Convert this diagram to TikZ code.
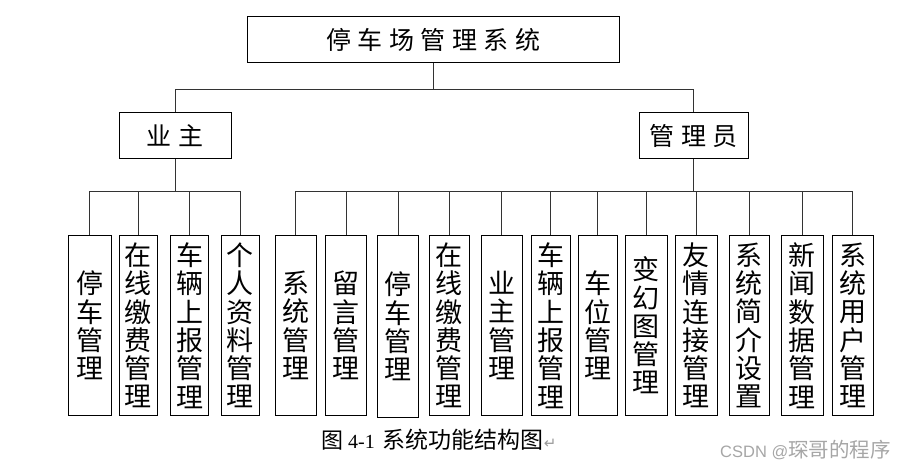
\documentclass[tikz,border=0pt]{standalone}
\usepackage{fontspec}
\usepackage{tikz}
\usetikzlibrary{positioning, calc}
\newfontfamily\cjk{Noto Sans CJK SC}
\newfontfamily\cjkwide[LetterSpace=26]{Noto Sans CJK SC}
\newfontfamily\timesfont{Liberation Serif}
\newfontfamily\arialfont{Liberation Sans}
\newfontfamily\symfont{DejaVu Sans}
\tikzstyle{headbox} = [rectangle, draw=black, line width=1pt, inner sep=0pt,
                       minimum height=46pt, text centered,
                       font=\cjkwide\fontsize{25}{28}\selectfont]
\tikzstyle{link}    = [draw=black!80, line width=1pt]

\begin{document}
\begin{tikzpicture}[x=1pt, y=-1pt,
    leaf/.style={rectangle, draw=black, line width=1pt, inner sep=0pt,
                 minimum width=41pt, minimum height=180pt, anchor=north,
                 align=center, font=\cjk\fontsize{27}{28.3}\selectfont},
    caption/.style={anchor=west, inner sep=0pt, font=\fontsize{22}{24}\selectfont},
    watermark/.style={anchor=west, inner sep=0pt, text=black!35,
                 font=\fontsize{20}{22}\selectfont}]
  \useasboundingbox (0,0) rectangle (904,468);

  % top levels
  \node[headbox, minimum width=372pt] (sys)   at (433, 40)   {停车场管理系统};
  \node[headbox, minimum width=112pt] (owner) at (175,135.5) {业主};
  \node[headbox, minimum width=109pt] (admin) at (693.5,135.5) {管理员};

  % owner functions
  \node[leaf, minimum width=43pt] (o1) at ( 89.5,235) {停\\车\\管\\理};
  \node[leaf, minimum width=38pt] (o2) at (138,235)   {在\\线\\缴\\费\\管\\理};
  \node[leaf, minimum width=38pt] (o3) at (189.5,235) {车\\辆\\上\\报\\管\\理};
  \node[leaf, minimum width=38pt] (o4) at (240,235)   {个\\人\\资\\料\\管\\理};

  % admin functions
  \node[leaf] (a1)  at (295.5,235) {系\\统\\管\\理};
  \node[leaf] (a2)  at (346,235)   {留\\言\\管\\理};
  \node[leaf, minimum height=182pt] (a3) at (398,235) {停\\车\\管\\理};
  \node[leaf, minimum width=40pt] (a4)  at (449,235)   {在\\线\\缴\\费\\管\\理};
  \node[leaf] (a5)  at (501.5,235) {业\\主\\管\\理};
  \node[leaf, minimum width=39pt] (a6)  at (550.5,235) {车\\辆\\上\\报\\管\\理};
  \node[leaf, minimum width=39pt] (a7)  at (597.5,235) {车\\位\\管\\理};
  \node[leaf, minimum width=42pt] (a8)  at (646,235)   {变\\幻\\图\\管\\理};
  \node[leaf, minimum width=42pt] (a9)  at (696,235)   {友\\情\\连\\接\\管\\理};
  \node[leaf, minimum width=40pt] (a10) at (749,235)   {系\\统\\简\\介\\设\\置};
  \node[leaf, minimum width=42pt] (a11) at (802,235)   {新\\闻\\数\\据\\管\\理};
  \node[leaf, minimum width=41pt] (a12) at (852.5,235) {系\\统\\用\\户\\管\\理};

  % connectors
  \draw[link] (sys.south) -- ++(0,26) -| (owner.north);
  \draw[link] (sys.south) -- ++(0,26) -| (admin.north);

  \draw[link] (owner.south) -- ++(0,32) -| (o1.north);
  \draw[link] (owner.south) -- ++(0,32) -| (o2.north);
  \draw[link] (owner.south) -- ++(0,32) -| (o3.north);
  \draw[link] (owner.south) -- ++(0,32) -| (o4.north);

  \draw[link] (admin.south) -- ++(0,32) -| (a1.north);
  \draw[link] (admin.south) -- ++(0,32) -| (a2.north);
  \draw[link] (admin.south) -- ++(0,32) -| (a3.north);
  \draw[link] (admin.south) -- ++(0,32) -| (a4.north);
  \draw[link] (admin.south) -- ++(0,32) -| (a5.north);
  \draw[link] (admin.south) -- ++(0,32) -| (a6.north);
  \draw[link] (admin.south) -- ++(0,32) -| (a7.north);
  \draw[link] (admin.south) -- ++(0,32) -| (a8.north);
  \draw[link] (admin.south) -- ++(0,32) -| (a9.north);
  \draw[link] (admin.south) -- ++(0,32) -| (a10.north);
  \draw[link] (admin.south) -- ++(0,32) -| (a11.north);
  \draw[link] (admin.south) -- ++(0,32) -| (a12.north);

  % caption and watermark
  \node[caption] (cap) at (321,440)
    {\cjk 图\timesfont\fontsize{20}{24}\selectfont{} 4-1\hspace{8pt}\cjk\fontsize{23}{24}\selectfont 系统功能结构图{\symfont\color{black!40}\fontsize{15}{18}\selectfont ↵}};
  \node[watermark] (wm) at (720,450) {\arialfont\fontsize{16.5}{20}\selectfont CSDN @\cjk\fontsize{20.5}{22}\selectfont 琛哥的程序};
\end{tikzpicture}
\end{document}
